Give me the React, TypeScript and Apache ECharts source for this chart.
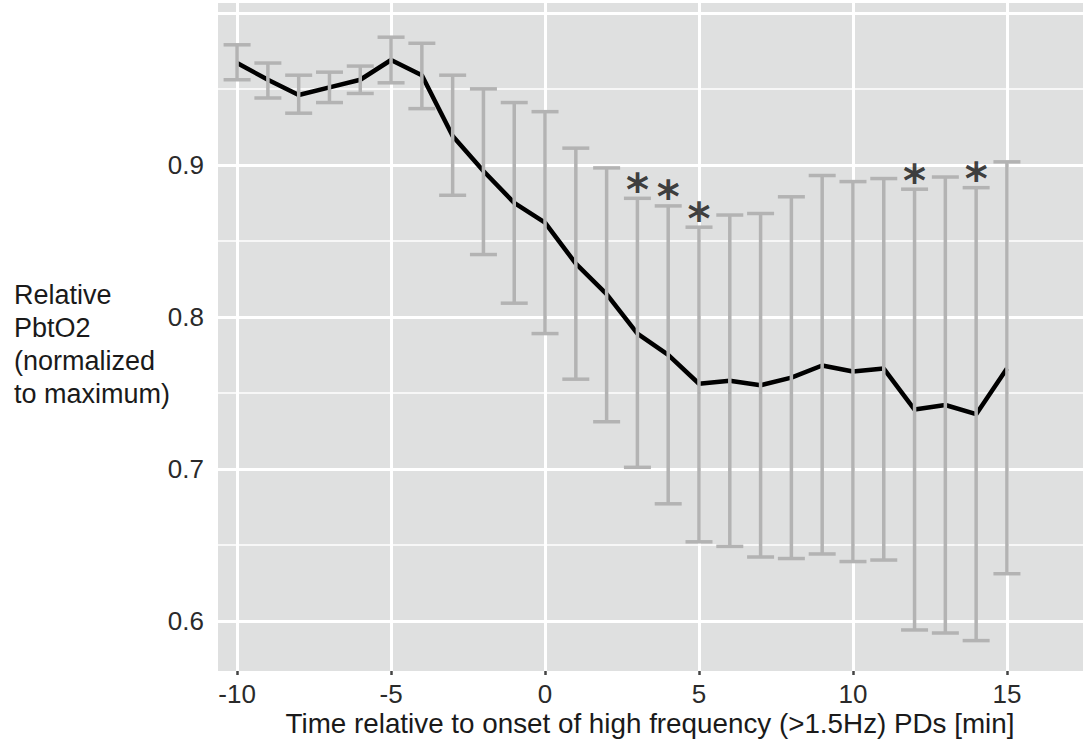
import React, { useEffect, useRef } from "react";
import * as echarts from "echarts";

// ---- data ----
const times = [-10, -9, -8, -7, -6, -5, -4, -3, -2, -1, 0, 1, 2, 3, 4, 5, 6, 7, 8, 9, 10, 11, 12, 13, 14, 15];
const meanValues = [0.967, 0.956, 0.946, 0.951, 0.956, 0.969, 0.959, 0.919, 0.896, 0.875, 0.862, 0.835, 0.815, 0.789, 0.775, 0.756, 0.758, 0.755, 0.760, 0.768, 0.764, 0.766, 0.739, 0.742, 0.736, 0.766];
const upperValues = [0.979, 0.967, 0.959, 0.961, 0.965, 0.984, 0.980, 0.959, 0.950, 0.941, 0.935, 0.911, 0.898, 0.878, 0.873, 0.859, 0.867, 0.868, 0.879, 0.893, 0.889, 0.891, 0.884, 0.892, 0.885, 0.902];
const lowerValues = [0.956, 0.944, 0.934, 0.941, 0.947, 0.954, 0.937, 0.880, 0.841, 0.809, 0.789, 0.759, 0.731, 0.701, 0.677, 0.652, 0.649, 0.642, 0.641, 0.644, 0.639, 0.640, 0.594, 0.592, 0.587, 0.631];
const significantTimes = [3, 4, 5, 12, 14];

const xTickValues = [-10, -5, 0, 5, 10, 15];
const yLabelValues = [0.6, 0.7, 0.8, 0.9];
const yTickValues = [0.6, 0.7, 0.8, 0.9, 1.0];
const yMajorGrid = [0.6, 0.7, 0.8, 0.9, 1.0];
const yMinorGrid = [0.65, 0.75, 0.85, 0.95];

const xTitle = "Time relative to onset of high frequency (>1.5Hz) PDs [min]";
const yTitle = "Relative\nPbtO2\n(normalized\nto maximum)";

const FONT = '"Liberation Sans", Arial, Helvetica, sans-serif';

export default function App() {
  const ref = useRef<HTMLDivElement>(null);

  useEffect(() => {
    if (!ref.current) return;
    const chart = echarts.init(ref.current, undefined, { renderer: "svg" });

    const gridLines: any[] = [
      ...yMajorGrid.map((v) => ({ yAxis: v, lineStyle: { color: "#ffffff", width: 3, type: "solid" } })),
      ...yMinorGrid.map((v) => ({ yAxis: v, lineStyle: { color: "#ffffff", width: 1.5, type: "solid" } })),
      ...xTickValues.map((v) => ({ xAxis: v, lineStyle: { color: "#ffffff", width: 3, type: "solid" } })),
    ];

    const errData = times.map((t, i) => [t, lowerValues[i], upperValues[i]]);
    const starData = significantTimes.map((t) => [t, upperValues[times.indexOf(t)]]);

    chart.setOption({
      animation: false,
      backgroundColor: "#ffffff",
      grid: {
        left: 218,
        right: 0,
        top: 3,
        bottom: 76,
        show: true,
        backgroundColor: "#dfe0e0",
        borderWidth: 0,
        containLabel: false,
      },
      xAxis: {
        type: "value",
        min: -10.62,
        max: 17.47,
        axisLine: { show: false },
        splitLine: { show: false },
        axisTick: {
          show: true,
          length: 4,
          customValues: xTickValues,
          lineStyle: { color: "#444", width: 2.5 },
        },
        axisLabel: {
          show: true,
          customValues: xTickValues,
          margin: 10,
          fontSize: 26,
          fontFamily: FONT,
          color: "#2a2a2a",
        },
      },
      yAxis: {
        type: "value",
        min: 0.567,
        max: 1.0065,
        axisLine: { show: false },
        splitLine: { show: false },
        axisTick: {
          show: true,
          length: 4,
          customValues: yTickValues,
          lineStyle: { color: "#444", width: 2.5 },
        },
        axisLabel: {
          show: true,
          customValues: yLabelValues,
          margin: 14,
          fontSize: 26,
          fontFamily: FONT,
          color: "#2a2a2a",
          formatter: (v: number) => v.toFixed(1),
        },
      },
      graphic: [
        {
          type: "text",
          x: 14,
          y: 344,
          style: {
            text: yTitle,
            font: `27px ${FONT}`,
            fill: "#1a1a1a",
            textAlign: "left",
            textVerticalAlign: "middle",
            lineHeight: 33,
          },
        },
        {
          type: "text",
          x: 650,
          y: 723,
          style: {
            text: xTitle,
            font: `27.8px ${FONT}`,
            fill: "#1a1a1a",
            textAlign: "center",
            textVerticalAlign: "middle",
          },
        },
      ],
      series: [
        {
          type: "line",
          name: "grid",
          z: 1,
          silent: true,
          data: [[0, 0.8]],
          symbol: "none",
          lineStyle: { opacity: 0 },
          markLine: {
            z: 1,
            silent: true,
            symbol: ["none", "none"],
            label: { show: false },
            emphasis: { disabled: true },
            data: gridLines,
          },
        },
        {
          type: "line",
          name: "mean",
          z: 2,
          data: times.map((t, i) => [t, meanValues[i]]),
          symbol: "none",
          lineStyle: { color: "#000000", width: 4.5 },
        },
        {
          type: "custom",
          name: "error",
          z: 3,
          data: errData,
          encode: { x: 0, y: [1, 2] },
          renderItem: (params: any, api: any) => {
            const x = api.value(0);
            const lo = api.coord([x, api.value(1)]);
            const hi = api.coord([x, api.value(2)]);
            const hw = 13.5;
            const style = { stroke: "#b3b3b3", lineWidth: 3.5 };
            return {
              type: "group",
              children: [
                { type: "line", shape: { x1: lo[0], y1: lo[1], x2: hi[0], y2: hi[1] }, style },
                { type: "line", shape: { x1: hi[0] - hw, y1: hi[1], x2: hi[0] + hw, y2: hi[1] }, style },
                { type: "line", shape: { x1: lo[0] - hw, y1: lo[1], x2: lo[0] + hw, y2: lo[1] }, style },
              ],
            };
          },
        },
        {
          type: "scatter",
          name: "significant",
          z: 4,
          data: starData,
          symbolSize: 0,
          itemStyle: { color: "transparent" },
          label: {
            show: true,
            position: "inside",
            formatter: "*",
            offset: [0, -9],
            fontSize: 44,
            fontWeight: "bold",
            fontFamily: '"DejaVu Sans", sans-serif',
            color: "#111111",
          },
        },
      ],
    });

    return () => chart.dispose();
  }, []);

  return (
    <div
      ref={ref}
      style={{ position: "fixed", left: 0, top: 0, width: 1083, height: 747 }}
    />
  );
}
